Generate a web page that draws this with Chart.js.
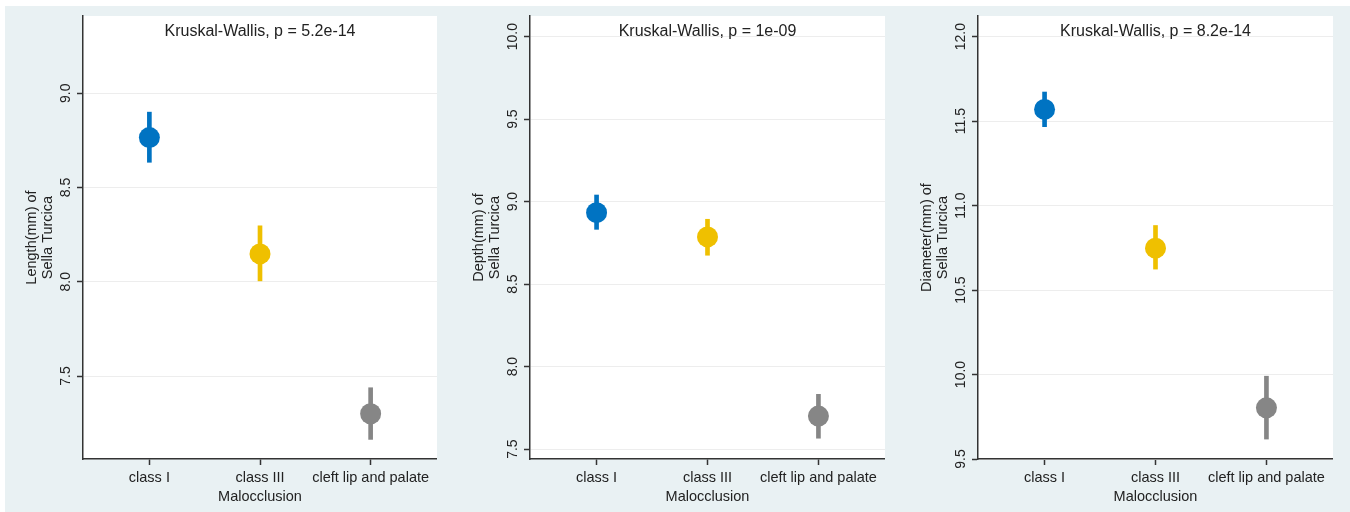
<!DOCTYPE html>
<html>
<head>
<meta charset="utf-8">
<script src="https://cdn.jsdelivr.net/npm/chart.js@4/dist/chart.umd.min.js"></script>
<style>
  html, body { margin: 0; padding: 0; background: #ffffff; width: 1350px; height: 512px; overflow: hidden; }
  #bg { position: absolute; left: 5px; top: 6px; width: 1345px; height: 506px; background: #E9F1F3; }
  canvas { position: absolute; top: 0; }
</style>
</head>
<body>
<div id="bg"></div>
<canvas id="c1" width="432" height="512" style="left:5px"></canvas>
<canvas id="c2" width="433" height="512" style="left:452px"></canvas>
<canvas id="c3" width="433" height="512" style="left:900px"></canvas>
<script>
// ---- data ----
const CATEGORIES = ['class I', 'class III', 'cleft lip and palate'];
const X_TITLE = 'Malocclusion';
const COLORS = ['#0073C2', '#EFC000', '#868686'];

const LENGTH_MEAN = [8.765, 8.148, 7.300];
const LENGTH_LOW  = [8.634, 8.005, 7.164];
const LENGTH_HIGH = [8.900, 8.297, 7.438];

const DEPTH_MEAN = [8.933, 8.786, 7.700];
const DEPTH_LOW  = [8.832, 8.675, 7.566];
const DEPTH_HIGH = [9.040, 8.893, 7.832];

const DIAM_MEAN = [11.569, 10.748, 9.803];
const DIAM_LOW  = [11.467, 10.624, 9.618];
const DIAM_HIGH = [11.672, 10.882, 9.990];

const P_VALUES = ['5.2e-14', '1e-09', '8.2e-14'];
const Y_TITLES = [
  ['Length(mm) of', 'Sella Turcica'],
  ['Depth(mm) of', 'Sella Turcica'],
  ['Diameter(mm) of', 'Sella Turcica']
];

// ---- styling ----
const FONT = '"Liberation Sans", Arial, Helvetica, sans-serif';
const TEXT = '#222222';
Chart.defaults.font.family = FONT;
Chart.defaults.font.size = 14.5;
Chart.defaults.color = TEXT;

const panelPlugin = {
  id: 'panelPlugin',
  beforeDraw(chart) {
    const { ctx, chartArea: a } = chart;
    ctx.save();
    ctx.fillStyle = '#ffffff';
    ctx.fillRect(a.left, a.top, a.right - a.left, a.bottom - a.top);
    ctx.restore();
  },
  afterDraw(chart, args, opts) {
    const { ctx, chartArea: a } = chart;
    const ys = chart.scales.y;
    ctx.save();
    ctx.fillStyle = TEXT;
    ctx.textAlign = 'center';
    ctx.textBaseline = 'middle';
    // rotated y tick labels
    ctx.font = '14px ' + FONT;
    ys.ticks.forEach(t => {
      const y = ys.getPixelForValue(t.value);
      ctx.save();
      ctx.translate(a.left - 17, y);
      ctx.rotate(-Math.PI / 2);
      ctx.fillText(t.value.toFixed(1), 0, 0);
      ctx.restore();
    });
    // y axis title (two lines)
    ctx.font = '14.5px ' + FONT;
    const cy = (a.top + a.bottom) / 2;
    opts.yTitle.forEach((line, i) => {
      ctx.save();
      ctx.translate(a.left - 51 + i * 16, cy);
      ctx.rotate(-Math.PI / 2);
      ctx.fillText(line, 0, 0);
      ctx.restore();
    });
    // test annotation
    ctx.font = '16px ' + FONT;
    ctx.fillText('Kruskal-Wallis, p = ' + opts.p, (a.left + a.right) / 2, a.top + 16);
    ctx.restore();
  }
};

function makePanel(id, mean, low, high, yMin, yMax, p, yTitle) {
  const pts = mean.map((m, i) => ({ x: i + 1, y: m }));
  const bars = low.map((l, i) => ({ x: i + 1, y: [l, high[i]] }));
  new Chart(document.getElementById(id), {
    type: 'bar',
    data: {
      datasets: [
        {
          type: 'scatter',
          data: pts,
          order: 0,
          clip: false,
          pointRadius: 10.5,
          pointHoverRadius: 10.5,
          pointBorderWidth: 0,
          pointBackgroundColor: COLORS,
          pointBorderColor: COLORS
        },
        {
          type: 'bar',
          data: bars,
          order: 1,
          barThickness: 4,
          grouped: false,
          backgroundColor: COLORS,
          borderWidth: 0
        }
      ]
    },
    options: {
      responsive: false,
      animation: false,
      events: [],
      layout: { autoPadding: false, padding: { top: 16, left: 0, right: 0, bottom: 0 } },
      plugins: {
        legend: { display: false },
        tooltip: { enabled: false },
        panelPlugin: { p: p, yTitle: yTitle }
      },
      scales: {
        x: {
          type: 'linear',
          min: 0.4,
          max: 3.6,
          offset: false,
          afterBuildTicks: s => { s.ticks = CATEGORIES.map((c, i) => ({ value: i + 1 })); },
          afterFit: s => { s.height = 53; s.paddingLeft = 0; s.paddingRight = 0; },
          ticks: {
            autoSkip: false,
            maxRotation: 0,
            minRotation: 0,
            padding: 4,
            color: TEXT,
            callback: v => CATEGORIES[Math.round(v) - 1]
          },
          grid: { display: true, offset: false, drawOnChartArea: false, drawTicks: true, tickLength: 6, tickColor: '#333333', tickWidth: 1.5 },
          border: { display: true, color: '#333333', width: 1.5 },
          title: { display: true, text: X_TITLE, color: TEXT, padding: { top: 6, bottom: 6 } }
        },
        y: {
          type: 'linear',
          min: yMin,
          max: yMax,
          afterFit: s => { s.width = 78; s.paddingTop = 0; s.paddingBottom = 0; },
          ticks: { display: false, stepSize: 0.5, includeBounds: false },
          grid: { display: true, color: '#EDEDED', lineWidth: 1, drawTicks: true, tickLength: 6, tickColor: '#333333', tickWidth: 1.5 },
          border: { display: true, color: '#333333', width: 1.5 }
        }
      }
    },
    plugins: [panelPlugin]
  });
}

makePanel('c1', LENGTH_MEAN, LENGTH_LOW, LENGTH_HIGH, 7.06, 9.41, P_VALUES[0], Y_TITLES[0]);
makePanel('c2', DEPTH_MEAN, DEPTH_LOW, DEPTH_HIGH, 7.44, 10.125, P_VALUES[1], Y_TITLES[1]);
makePanel('c3', DIAM_MEAN, DIAM_LOW, DIAM_HIGH, 9.5, 12.122, P_VALUES[2], Y_TITLES[2]);
</script>
</body>
</html>
